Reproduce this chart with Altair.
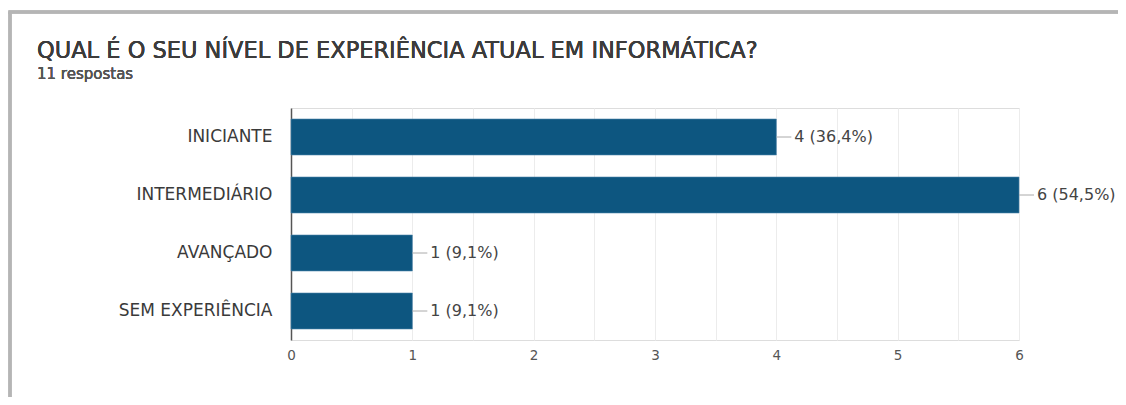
import altair as alt
import pandas as pd

categories = ["INICIANTE", "INTERMEDIÁRIO", "AVANÇADO", "SEM EXPERIÊNCIA"]
counts = [4, 6, 1, 1]
labels = ["4 (36,4%)", "6 (54,5%)", "1 (9,1%)", "1 (9,1%)"]
x_ticks = [0, 0.5, 1, 1.5, 2, 2.5, 3, 3.5, 4, 4.5, 5, 5.5, 6]

title_text = "QUAL É O SEU NÍVEL DE  EXPERIÊNCIA ATUAL EM INFORMÁTICA?"
subtitle_text = "11 respostas"

df = pd.DataFrame({"cat": categories, "count": counts, "label": labels})

FONT = "DejaVu Sans"
W, H = 728, 232

xscale = alt.Scale(domain=[0, 6], nice=False)
yscale = alt.Scale(domain=categories, paddingInner=0.38, paddingOuter=0.19)

base = alt.Chart(df)

bars = base.mark_bar(color="#0d5680", stroke="#4a83a8", strokeWidth=0.6).encode(
    x=alt.X("count:Q", scale=xscale,
            axis=alt.Axis(values=x_ticks, title=None, grid=True, gridColor="#ececec",
                          domain=False, ticks=False, labelFontSize=13.5, labelColor="#555",
                          labelFont=FONT, labelPadding=8, labelFlush=False,
                          labelExpr="datum.value % 1 == 0 ? format(datum.value, 'd') : ''")),
    y=alt.Y("cat:N", scale=yscale, sort=categories,
            axis=alt.Axis(title=None, domain=True, domainColor="#555", domainWidth=1.5,
                          ticks=False, labelFontSize=17, labelColor="#3a3a3a", labelFont=FONT,
                          labelPadding=19)),
)

connectors = base.mark_rule(color="#aaa", strokeWidth=1, x2Offset=15).encode(
    x="count:Q", x2="count:Q", y=alt.Y("cat:N", scale=yscale, sort=categories, bandPosition=0.5)
)

texts = base.mark_text(align="left", baseline="middle", dx=18, fontSize=16,
                       color="#444", font=FONT).encode(
    x="count:Q", y=alt.Y("cat:N", scale=yscale, sort=categories, bandPosition=0.5),
    text="label:N",
)

frame_left = alt.Chart(df).mark_rule(color="#b5b5b5", strokeWidth=3).encode(
    x=alt.value(-281), y=alt.value(-96), y2=alt.value(310)
)
frame_top = alt.Chart(df).mark_rule(color="#b5b5b5", strokeWidth=3).encode(
    x=alt.value(-282.5), x2=alt.value(840), y=alt.value(-96)
)

title = alt.Chart(df).mark_text(align="left", baseline="alphabetic", fontSize=22.5,
                                color="#3c3c3c", font=FONT).encode(
    x=alt.value(-254), y=alt.value(-50), text=alt.value(title_text)
)
subtitle = alt.Chart(df).mark_text(align="left", baseline="alphabetic", fontSize=15,
                                   color="#555", font=FONT).encode(
    x=alt.value(-254), y=alt.value(-29), text=alt.value(subtitle_text)
)

chart = alt.layer(bars, connectors, texts, frame_left, frame_top, title, subtitle).properties(
    width=W, height=H,
    autosize=alt.AutoSizeParams(type="none"),
    padding={"left": 283, "top": 100, "right": 99, "bottom": 57},
).configure_view(stroke=None).configure(background="white")

chart.save("out.html", embed_options={"renderer": "svg", "actions": False})
